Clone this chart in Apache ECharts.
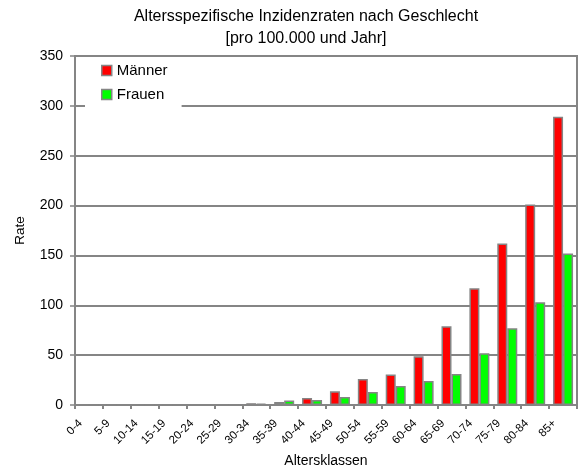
<!DOCTYPE html>
<html>
<head>
<meta charset="utf-8">
<script src="https://cdn.jsdelivr.net/npm/echarts@6/dist/echarts.min.js"></script>
<style>
  html, body { margin: 0; padding: 0; background: #fff; }
  #chart { width: 580px; height: 473px; }
</style>
</head>
<body>
<div id="chart"></div>
<script>
// Age classes (x axis)
const ageClasses = ['0-4', '5-9', '10-14', '15-19', '20-24', '25-29', '30-34', '35-39', '40-44',
  '45-49', '50-54', '55-59', '60-64', '65-69', '70-74', '75-79', '80-84', '85+'];
// Incidence rates per 100,000 and year
const maenner = [0.3, 0.1, 0.2, 0.3, 0.4, 0.6, 1.8, 3, 7, 13.7, 26, 30.5, 49, 79, 117, 162, 201, 289];
const frauen  = [0.2, 0.1, 0.2, 0.3, 0.5, 0.7, 1.4, 4.5, 5, 8, 13, 19, 24, 31, 52, 77, 103, 152];
// Value axis ticks
const yMin = 0, yMax = 350, yStep = 50;

const FONT = 'Liberation Sans, Arial, sans-serif';
const GRAY = '#858585';

const chart = echarts.init(document.getElementById('chart'));
chart.setOption({
  animation: false,
  backgroundColor: '#fff',
  textStyle: { fontFamily: FONT },
  title: {
    text: 'Altersspezifische Inzidenzraten nach Geschlecht\n[pro 100.000 und Jahr]',
    left: 301, top: 1, textAlign: 'center',
    textStyle: { fontFamily: FONT, fontSize: 16, fontWeight: 'normal', color: '#000', lineHeight: 22 }
  },
  legend: {
    orient: 'vertical', left: 85, top: 57,
    backgroundColor: '#fff',
    padding: [6, 14, 8, 16],
    itemGap: 9,
    itemWidth: 10, itemHeight: 10, icon: 'rect',
    textStyle: { fontFamily: FONT, fontSize: 15, color: '#000' },
    data: [
      { name: 'Männer', itemStyle: { borderColor: GRAY, borderWidth: 1.5 } },
      { name: 'Frauen', itemStyle: { borderColor: GRAY, borderWidth: 1.5 } }
    ]
  },
  grid: {
    left: 75, right: 3, top: 56, bottom: 66,
    show: true, borderColor: GRAY, borderWidth: 2, backgroundColor: 'transparent'
  },
  xAxis: {
    type: 'category', data: ageClasses,
    name: 'Altersklassen', nameLocation: 'middle', nameGap: 49,
    nameTextStyle: { fontFamily: FONT, fontSize: 14, color: '#000' },
    axisLine: { lineStyle: { color: GRAY, width: 2 } },
    axisTick: { show: true, length: 4, lineStyle: { color: GRAY, width: 2 } },
    axisLabel: { rotate: 45, fontSize: 11.5, color: '#000', margin: 8, padding: [0, 12, 0, 0], fontFamily: FONT }
  },
  yAxis: {
    type: 'value', min: yMin, max: yMax, interval: yStep,
    name: 'Rate', nameLocation: 'middle', nameGap: 48,
    nameTextStyle: { fontFamily: FONT, fontSize: 13.5, color: '#000' },
    axisLine: { show: true, lineStyle: { color: GRAY, width: 2 } },
    axisTick: { show: true, length: 5, lineStyle: { color: GRAY, width: 1.5 } },
    axisLabel: { fontSize: 14, color: '#000', margin: 12, fontFamily: FONT },
    splitLine: { show: true, lineStyle: { color: GRAY, width: 2 } }
  },
  series: [
    {
      name: 'Männer', type: 'bar', data: maenner,
      barWidth: 10, barGap: '0%',
      itemStyle: { color: '#ff0000', borderColor: GRAY, borderWidth: 1.5 }
    },
    {
      name: 'Frauen', type: 'bar', data: frauen,
      barWidth: 10,
      itemStyle: { color: '#00ff00', borderColor: GRAY, borderWidth: 1.5 }
    }
  ]
});
</script>
</body>
</html>
